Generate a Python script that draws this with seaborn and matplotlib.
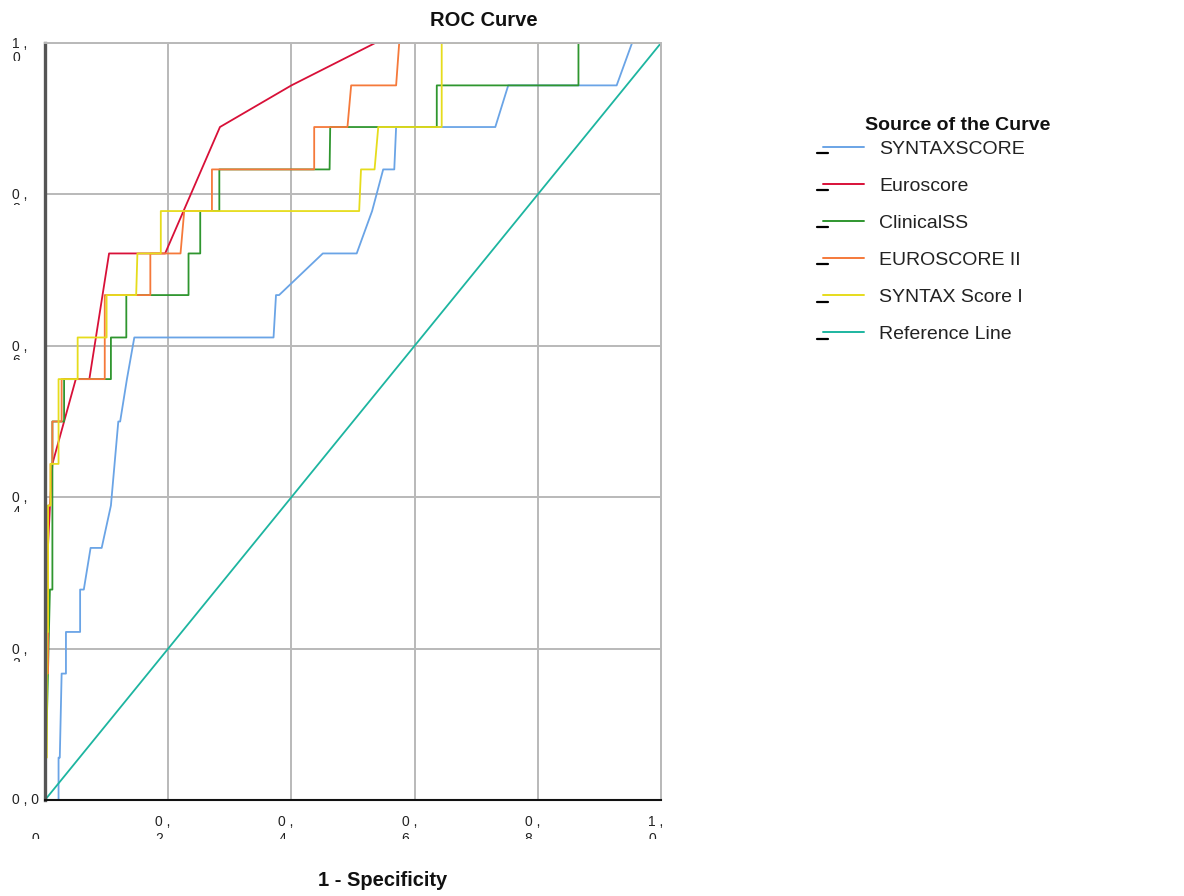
import numpy as np
import pandas as pd
import matplotlib
matplotlib.use("Agg")
import matplotlib.pyplot as plt
import seaborn as sns
from matplotlib.lines import Line2D
from matplotlib.transforms import Bbox

# ROC points (1 - specificity, sensitivity)
syntaxscore_fpr = [0, 0.022, 0.022, 0.024, 0.027, 0.034, 0.034, 0.057, 0.057, 0.063, 0.074,
                   0.092, 0.107, 0.119, 0.122, 0.133, 0.145, 0.371, 0.375, 0.380, 0.451,
                   0.506, 0.531, 0.549, 0.567, 0.570, 0.731, 0.752, 0.928, 0.953, 1.0]
syntaxscore_tpr = [0, 0, 0.056, 0.056, 0.167, 0.167, 0.222, 0.222, 0.278, 0.278, 0.333,
                   0.333, 0.389, 0.5, 0.5, 0.556, 0.611, 0.611, 0.667, 0.667, 0.722,
                   0.722, 0.778, 0.833, 0.833, 0.889, 0.889, 0.944, 0.944, 1.0, 1.0]

euroscore_fpr = [0, 0, 0.003, 0.008, 0.012, 0.050, 0.072, 0.104, 0.195, 0.284, 0.400, 0.536, 1.0]
euroscore_tpr = [0, 0.056, 0.304, 0.387, 0.444, 0.556, 0.556, 0.722, 0.722, 0.889, 0.944, 1.0, 1.0]

clinicalss_fpr = [0, 0.008, 0.012, 0.012, 0.031, 0.031, 0.107, 0.107, 0.132, 0.132, 0.233, 0.233,
                  0.252, 0.252, 0.283, 0.283, 0.462, 0.463, 0.636, 0.636, 0.866, 0.866, 1.0]
clinicalss_tpr = [0, 0.278, 0.278, 0.5, 0.5, 0.556, 0.556, 0.611, 0.611, 0.667, 0.667, 0.722,
                  0.722, 0.778, 0.778, 0.833, 0.833, 0.889, 0.889, 0.944, 0.944, 1.0, 1.0]

euroscore2_fpr = [0, 0, 0.005, 0.005, 0.009, 0.009, 0.012, 0.012, 0.027, 0.027, 0.097, 0.097, 0.171,
                  0.171, 0.220, 0.226, 0.271, 0.271, 0.437, 0.437, 0.491, 0.497, 0.570, 0.575, 1.0]
euroscore2_tpr = [0, 0.167, 0.167, 0.389, 0.389, 0.444, 0.444, 0.5, 0.5, 0.556, 0.556, 0.667, 0.667,
                  0.722, 0.722, 0.778, 0.778, 0.833, 0.833, 0.889, 0.889, 0.944, 0.944, 1.0, 1.0]

syntax1_fpr = [0, 0, 0.003, 0.003, 0.005, 0.005, 0.009, 0.009, 0.022, 0.022, 0.053, 0.053, 0.100,
               0.100, 0.148, 0.150, 0.188, 0.188, 0.510, 0.513, 0.535, 0.541, 0.644, 0.644, 1.0]
syntax1_tpr = [0, 0.056, 0.056, 0.222, 0.222, 0.389, 0.389, 0.444, 0.444, 0.556, 0.556, 0.611, 0.611,
               0.667, 0.667, 0.722, 0.722, 0.778, 0.778, 0.833, 0.833, 0.889, 0.889, 1.0, 1.0]

reference_fpr = [0, 1]
reference_tpr = [0, 1]

curve_names = ["SYNTAXSCORE", "Euroscore", "ClinicalSS", "EUROSCORE II",
               "SYNTAX Score I", "Reference Line"]
curve_colors = ["#6aa4e6", "#d81038", "#2f962f", "#f5793a", "#e6dc1c", "#1db5a0"]

axis_ticks = [0.0, 0.2, 0.4, 0.6, 0.8, 1.0]
y_tick_labels = ["0 , 0", "0 ,\n2", "0 ,\n4", "0 ,\n6", "0 ,\n8", "1 ,\n0"]
x_tick_labels = ["\n0", "0 ,\n2", "0 ,\n4", "0 ,\n6", "0 ,\n8", "1 ,\n0"]
# how far below each y tick the second line gets cut (px)
y_label_cut = [0, 13, 14.5, 14, 11, 18]

W, H = 1184, 896


def build_frame():
    pairs = [
        (syntaxscore_fpr, syntaxscore_tpr),
        (euroscore_fpr, euroscore_tpr),
        (clinicalss_fpr, clinicalss_tpr),
        (euroscore2_fpr, euroscore2_tpr),
        (syntax1_fpr, syntax1_tpr),
        (reference_fpr, reference_tpr),
    ]
    parts = []
    for name, (fpr, tpr) in zip(curve_names, pairs):
        parts.append(pd.DataFrame({"fpr": fpr, "tpr": tpr, "curve": name}))
    return pd.concat(parts, ignore_index=True)


sns.set_theme(style="white")
plt.rcParams["font.family"] = ["Liberation Sans", "DejaVu Sans"]

df = build_frame()
palette = dict(zip(curve_names, curve_colors))

fig = plt.figure(figsize=(W / 100, H / 100), dpi=100)
ax = fig.add_axes([45 / W, 1 - 800 / H, 616 / W, 757 / H])

sns.lineplot(
    data=df, x="fpr", y="tpr", hue="curve", hue_order=curve_names,
    palette=palette, sort=False, estimator=None, linewidth=1.3,
    legend=False, ax=ax,
)

ax.set_xlim(0, 1)
ax.set_ylim(0, 1)
ax.set_xticks(axis_ticks)
ax.set_yticks(axis_ticks)
ax.set_xticklabels([])
ax.set_yticklabels([])
ax.tick_params(length=0)
ax.set_xlabel("")
ax.set_ylabel("")
ax.grid(True, color="#b9b9b9", linewidth=1.4)
ax.set_axisbelow(True)

ax.spines["left"].set_color("#555555")
ax.spines["left"].set_linewidth(2.4)
ax.spines["bottom"].set_color("#111111")
ax.spines["bottom"].set_linewidth(1.5)
for side in ["top", "right"]:
    ax.spines[side].set_color("#b9b9b9")
    ax.spines[side].set_linewidth(1.4)

# broken two-line tick labels, second line cut off like the original export
for v, lab, cut in zip(axis_ticks, y_tick_labels, y_label_cut):
    ty = ax.transData.transform((0, v))[1]
    if "\n" not in lab:
        ax.text(-32.5 / 616, v, lab, transform=ax.get_yaxis_transform(),
                ha="left", va="center", fontsize=10, color="#222222")
        continue
    t = ax.text(-32.5 / 616, v + 6 / 757, lab, transform=ax.get_yaxis_transform(),
                ha="left", va="top", fontsize=10, color="#222222", linespacing=1.0)
    t.set_clip_box(Bbox.from_extents(0, ty - cut, 44, ty + 30))
    t.set_clip_on(True)

base = H - 800
for v, lab in zip(axis_ticks, x_tick_labels):
    tx = ax.transData.transform((v, 0))[0]
    t = ax.text(v - 13 / 616, -15 / 757, lab, transform=ax.get_xaxis_transform(),
                ha="left", va="top", fontsize=10, color="#222222", linespacing=1.3)
    t.set_clip_box(Bbox.from_extents(tx - 30, base - 38.5, tx + 30, base - 5))
    t.set_clip_on(True)

fig.text(484 / W, 1 - 20 / H, "ROC Curve", ha="center", va="center",
         fontsize=14.5, fontweight="bold", color="#111111")
fig.text(383 / W, 1 - 880 / H, "1 - Specificity", ha="center", va="center",
         fontsize=14.5, fontweight="bold", color="#111111")
fig.text(865 / W, 1 - 125 / H, "Source of the Curve", ha="left", va="center",
         fontsize=14, fontweight="bold", color="#111111")

handles = [Line2D([0], [0], color=c, linewidth=1.4) for c in curve_colors]
leg = fig.legend(
    handles, curve_names, loc="upper left",
    bbox_to_anchor=(823 / W, 1 - 140 / H), frameon=False,
    fontsize=14, borderpad=0, borderaxespad=0,
    handlelength=2.1, handletextpad=0.8, labelspacing=1.0,
)
for txt in leg.get_texts():
    txt.set_color("#222222")

# small black marks beside each legend key
fig.canvas.draw()
renderer = fig.canvas.get_renderer()
for hl in leg.get_lines():
    ext = hl.get_window_extent(renderer)
    yc = (ext.y0 + ext.y1) / 2 - 6.5
    fig.add_artist(Line2D([(ext.x0 - 6) / W, (ext.x0 + 5) / W], [yc / H, yc / H],
                          color="black", linewidth=1.6))

fig.savefig("out.png", dpi=100)
